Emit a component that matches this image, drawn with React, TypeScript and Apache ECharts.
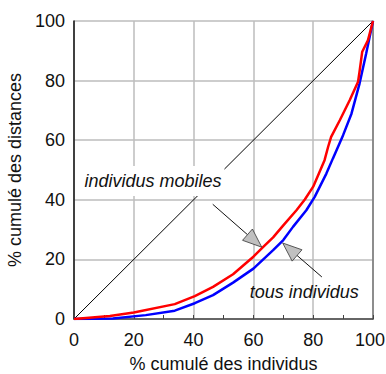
import React, { useEffect, useRef } from "react";
import * as echarts from "echarts";

// Lorenz-type concentration curves: cumulative share of distances vs cumulative share of people
const mobilesX = [0, 12, 20, 33.7, 40.4, 46.5, 53.2, 60, 63.3, 66.6, 70, 74.4, 77.2, 80, 83.8, 85, 86, 88.9, 92.2, 95, 95.5, 96.4, 98.3, 100];
const mobilesY = [0, 1, 2.2, 5, 7.7, 10.8, 15, 20.9, 24.2, 27.4, 31.4, 36.5, 40.1, 44.4, 53.3, 57.8, 61.1, 66.7, 73.4, 79.6, 83, 89.7, 93.5, 100];

const tousX = [0, 13, 24, 33.7, 40.4, 46.5, 53.2, 60, 66.6, 70, 73.3, 77.7, 80.5, 84.4, 86.6, 90, 92.8, 95.5, 97.7, 100];
const tousY = [0, 0.2, 1.3, 2.8, 5.3, 8, 12.2, 16.9, 23.1, 26.5, 31, 36.5, 41, 48.8, 53.9, 61.7, 68.9, 79, 89, 100];

const equalityX = [0, 100];
const equalityY = [0, 100];

const tickValues = [0, 20, 40, 60, 80, 100];

// callout labels with arrows pointing at each curve (data coordinates)
const calloutLabels = ["individus mobiles", "tous individus"];
const calloutTextAt = [[26.4, 46.3], [77, 9]];
const calloutArrowFrom = [[46.4, 38.5], [82.9, 14.1]];
const calloutArrowTo = [[62.8, 24.1], [69.8, 25.5]];

const zip = (xs: number[], ys: number[]) => xs.map((x, i) => [x, ys[i]]);

const FONT = "'Liberation Sans', Arial, sans-serif";

export default function App() {
  const ref = useRef<HTMLDivElement>(null);

  useEffect(() => {
    if (!ref.current) return;
    const chart = echarts.init(ref.current, null, { renderer: "svg" });

    const renderCallouts = (_params: any, api: any) => {
      const children: any[] = [];
      calloutLabels.forEach((label, i) => {
        const from = api.coord(calloutArrowFrom[i]);
        const tip = api.coord(calloutArrowTo[i]);
        const dx = tip[0] - from[0];
        const dy = tip[1] - from[1];
        const len = Math.sqrt(dx * dx + dy * dy);
        const ux = dx / len;
        const uy = dy / len;
        const headLen = 19;
        const headHalf = 7.5;
        const bx = tip[0] - ux * headLen;
        const by = tip[1] - uy * headLen;
        children.push({
          type: "line",
          shape: { x1: from[0], y1: from[1], x2: bx, y2: by },
          style: { stroke: "#111", lineWidth: 1 },
        });
        children.push({
          type: "polygon",
          shape: {
            points: [
              [tip[0], tip[1]],
              [bx - uy * headHalf, by + ux * headHalf],
              [bx + uy * headHalf, by - ux * headHalf],
            ],
          },
          style: { fill: "#c0c0c0", stroke: "#333", lineWidth: 0.8 },
        });
        const at = api.coord(calloutTextAt[i]);
        children.push({
          type: "text",
          x: at[0],
          y: at[1],
          style: {
            text: label,
            fontFamily: FONT,
            fontStyle: "italic",
            fontSize: 18,
            fill: "#111",
            align: "center",
            verticalAlign: "middle",
            backgroundColor: i === 0 ? "#fff" : undefined,
            padding: i === 0 ? [6, 3] : 0,
          },
        });
      });
      return { type: "group", children };
    };

    chart.setOption({
      animation: false,
      backgroundColor: "#fff",
      grid: { left: 74, right: 13, top: 21, bottom: 55, outerBoundsMode: "none", containLabel: false },
      xAxis: {
        type: "value",
        min: 0,
        max: 100,
        interval: 20,
        name: "% cumulé des individus",
        nameLocation: "middle",
        nameGap: 36,
        nameTextStyle: { fontFamily: FONT, fontSize: 18, color: "#111" },
        axisLine: { show: true, lineStyle: { color: "#444", width: 1.5 } },
        axisTick: { show: true, inside: true, length: 4, lineStyle: { color: "#444" } },
        minorTick: { show: true, splitNumber: 2, length: 4, lineStyle: { color: "#444" } },
        axisLabel: {
          fontFamily: FONT,
          fontSize: 18,
          color: "#111",
          margin: 12,
          customValues: tickValues,
          // the last label is nudged left so it stays inside the canvas
          formatter: (v: number) => (v === 100 ? "{e|100}" : String(v)),
          rich: { e: { fontFamily: FONT, fontSize: 18, color: "#111", padding: [0, 6, 0, 0] } },
        },
        splitLine: { show: true, lineStyle: { color: "#bdbdbd", width: 1.5 } },
      },
      yAxis: [
        {
          type: "value",
          min: 0,
          max: 100,
          interval: 20,
          name: "% cumulé des distances",
          nameLocation: "middle",
          nameGap: 45,
          nameTextStyle: { fontFamily: FONT, fontSize: 18, color: "#111" },
          axisLine: { show: true, lineStyle: { color: "#111", width: 1.5 } },
          axisTick: { show: false },
          axisLabel: { fontFamily: FONT, fontSize: 18, color: "#111", margin: 9 },
          splitLine: { show: true, lineStyle: { color: "#bdbdbd", width: 1.5 } },
        },
        {
          type: "value",
          position: "right",
          min: 0,
          max: 100,
          interval: 20,
          axisLine: { show: true, lineStyle: { color: "#777", width: 1.5 } },
          axisTick: { show: false },
          axisLabel: { show: false },
          splitLine: { show: false },
        },
      ],
      series: [
        {
          type: "line",
          data: zip(equalityX, equalityY),
          showSymbol: false,
          lineStyle: { color: "#000", width: 1 },
          z: 2,
        },
        {
          type: "line",
          name: "tous individus",
          data: zip(tousX, tousY),
          showSymbol: false,
          lineStyle: { color: "#0000ff", width: 2.5 },
          z: 3,
        },
        {
          type: "line",
          name: "individus mobiles",
          data: zip(mobilesX, mobilesY),
          showSymbol: false,
          lineStyle: { color: "#ff0000", width: 2.5 },
          z: 4,
        },
        {
          type: "custom",
          data: [0],
          renderItem: renderCallouts,
          clip: false,
          z: 10,
        },
      ],
    });

    return () => chart.dispose();
  }, []);

  return <div ref={ref} style={{ width: 386, height: 374, position: "absolute", left: 0, top: 0 }} />;
}
